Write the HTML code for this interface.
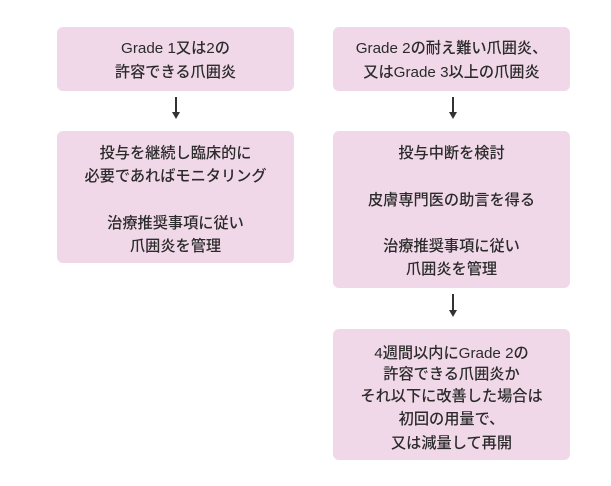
<!DOCTYPE html>
<html><head><meta charset="utf-8"><style>
body{margin:0;width:611px;height:486px;background:#fff;position:relative;overflow:hidden;font-family:"Liberation Sans","Noto Sans CJK JP",sans-serif;color:#2b2b2b}
.b{position:absolute;background:#f0d8e8;border-radius:6px}
.t{position:absolute;width:237px;text-align:center;font-size:15.2px;line-height:20px;white-space:nowrap;font-weight:500}
.a{position:absolute;width:2px;background:#333}
.h{position:absolute;width:0;height:0;border-left:4px solid transparent;border-right:4px solid transparent;border-top:7px solid #333}
</style></head><body>
<div class="b" style="left:57px;top:27px;width:237px;height:64px"></div>
<div class="b" style="left:57px;top:131px;width:237px;height:132px"></div>
<div class="b" style="left:333px;top:27px;width:237px;height:64px"></div>
<div class="b" style="left:333px;top:131px;width:237px;height:157px"></div>
<div class="b" style="left:333px;top:329px;width:237px;height:131px"></div>

<div class="a" style="left:175px;top:97px;height:16px"></div><div class="h" style="left:172px;top:112px"></div>
<div class="a" style="left:452px;top:97px;height:16px"></div><div class="h" style="left:449px;top:112px"></div>
<div class="a" style="left:452px;top:294px;height:17px"></div><div class="h" style="left:449px;top:310px"></div>

<div class="t" style="left:57px;top:39px">Grade 1又は2の</div>
<div class="t" style="left:57px;top:63px">許容できる爪囲炎</div>
<div class="t" style="left:57px;top:144px">投与を継続し臨床的に</div>
<div class="t" style="left:57px;top:167px">必要であればモニタリング</div>
<div class="t" style="left:57px;top:214px">治療推奨事項に従い</div>
<div class="t" style="left:57px;top:237px">爪囲炎を管理</div>

<div class="t" style="left:333px;top:39px">Grade 2の耐え難い爪囲炎、</div>
<div class="t" style="left:333px;top:63px">又はGrade 3以上の爪囲炎</div>
<div class="t" style="left:333px;top:144px">投与中断を検討</div>
<div class="t" style="left:333px;top:191px">皮膚専門医の助言を得る</div>
<div class="t" style="left:333px;top:237px">治療推奨事項に従い</div>
<div class="t" style="left:333px;top:260px">爪囲炎を管理</div>

<div class="t" style="left:333px;top:344px">4週間以内にGrade 2の</div>
<div class="t" style="left:333px;top:365px">許容できる爪囲炎か</div>
<div class="t" style="left:333px;top:387px">それ以下に改善した場合は</div>
<div class="t" style="left:333px;top:410px">初回の用量で、</div>
<div class="t" style="left:333px;top:434px">又は減量して再開</div>
</body></html>
